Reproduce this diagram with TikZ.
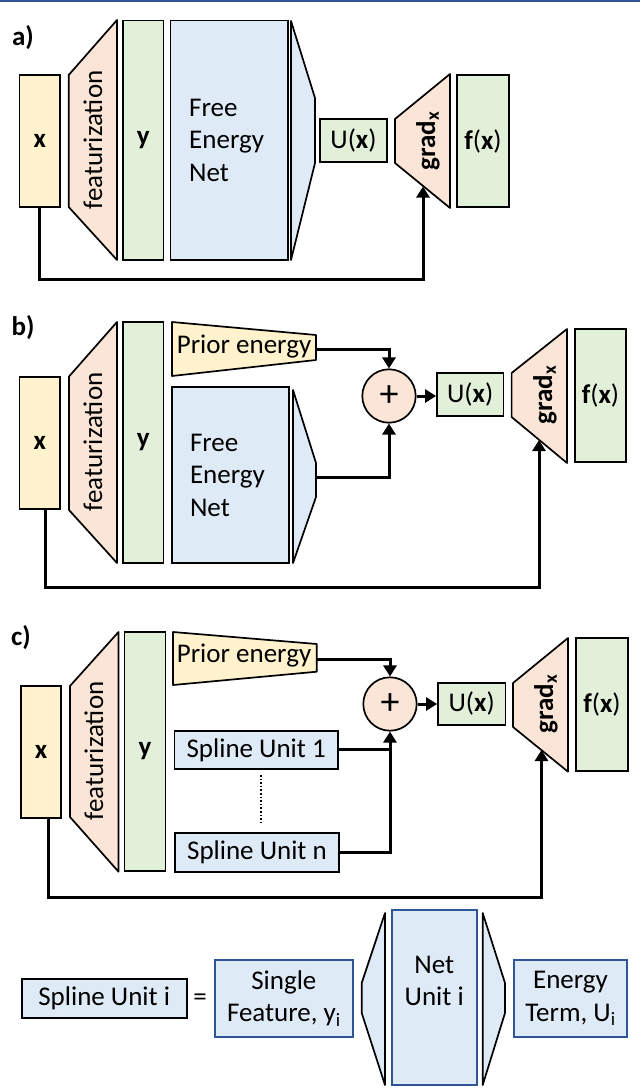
\documentclass[tikz,border=0pt]{standalone}
\usepackage{fontspec}
\setmainfont{Carlito}
\usepackage{tikz}
\usetikzlibrary{arrows.meta, positioning}
\definecolor{yelfill}{HTML}{FFF2CC}
\definecolor{peachfill}{HTML}{FBE5D6}
\definecolor{greenfill}{HTML}{E2F0D9}
\definecolor{bluefill}{HTML}{DEEBF7}
\definecolor{blueline}{HTML}{2F5597}
\newcommand{\bigfont}{\fontsize{27}{32.5}\selectfont}

\begin{document}
\begin{tikzpicture}
  [
    x=1pt, y=-1pt,
    every node/.style={font=\bigfont, inner sep=0pt},
    Box/.style={rectangle, draw=black, line width=1.7pt},
    Yellow/.style={Box, fill=yelfill},
    Green/.style={Box, fill=greenfill},
    Blue/.style={Box, fill=bluefill},
    BlueEdge/.style={Box, fill=bluefill, draw=blueline},
    PeachShape/.style={draw=black, line width=1.7pt, fill=peachfill, line join=round},
    YellowShape/.style={draw=black, line width=1.7pt, fill=yelfill, line join=round},
    BlueShape/.style={draw=black, line width=1.7pt, fill=bluefill, line join=round},
    Plus/.style={circle, draw=black, line width=1.7pt, fill=peachfill, minimum size=53.4pt, font=\fontsize{38}{38}\selectfont},
    Tag/.style={font=\bigfont\bfseries},
    Link/.style={draw, line width=3pt, >={Triangle[length=11pt, width=13pt]}}
  ]
  \useasboundingbox[fill=white] (0,0) rectangle (640,1089);
  \draw[blueline, line width=2pt] (0,1) -- (640,1);

  % Panel a
  \node[Tag] (la) at (23,38) {a)};
  \node[Yellow, minimum width=40.4, minimum height=132, Tag] (xA) at (39.8,141) {x};
  \path[PeachShape] (68.7,75) -- (117,20) -- (117,260) -- (68.7,207) -- cycle;
  \node[rotate=90] (ftA) at (93,140) {featurization};
  \node[Green, minimum width=40.5, minimum height=239.3, Tag] (yA) at (143.2,140.3) {y};
  \node[Blue, minimum width=117.6, minimum height=239.3, text width=80, align=left] (fenA) at (229.2,140.3) {Free\\Energy\\Net};
  \path[BlueShape] (291,21) -- (315,98) -- (315,163) -- (291,260) -- cycle;
  \node[Green, minimum width=67, minimum height=43] (uA) at (353.5,140.5) {U(\textbf{x})};
  \path[PeachShape] (395,119) -- (450,74) -- (450,208) -- (395,163) -- cycle;
  \node[rotate=90, Tag] (grA) at (428,141) {grad\textsubscript{x}};
  \node[Green, minimum width=52, minimum height=132] (fA) at (483,141) {\textbf{f}(\textbf{x})};
  \coordinate (gA) at (423,186.5);
  % Lines
  \path[->, Link] (xA.south) -- ++(0,72) -| (gA);

  % Panel b
  \node[Tag] (lb) at (23,328) {b)};
  \node[Yellow, minimum width=40.4, minimum height=132.6, Tag] (xB) at (39.8,443) {x};
  \path[PeachShape] (69,376.5) -- (117,322) -- (117,563) -- (69,510) -- cycle;
  \node[rotate=90] (ftB) at (93,442) {featurization};
  \node[Green, minimum width=40.5, minimum height=241, Tag] (yB) at (143.2,442.5) {y};
  \path[YellowShape] (172,322) -- (316,335) -- (316,360) -- (172,376) -- cycle;
  \node (prB) at (244,347) {Prior energy};
  \node[Blue, minimum width=117, minimum height=176, text width=81, align=left] (fenB) at (230.5,475) {Free\\Energy\\Net};
  \path[BlueShape] (293,390) -- (316,463) -- (316,497) -- (293,563) -- cycle;
  \node[Plus] (plusB) at (389,396) {+};
  \node[Green, minimum width=66.5, minimum height=42.7] (uB) at (470.2,394.3) {U(\textbf{x})};
  \path[PeachShape] (511.6,373) -- (567,329) -- (567,463) -- (511.6,417) -- cycle;
  \node[rotate=90, Tag] (grB) at (545,395) {grad\textsubscript{x}};
  \node[Green, minimum width=51, minimum height=133] (fB) at (600.5,395.5) {\textbf{f}(\textbf{x})};
  \coordinate (prBout) at (316,349);
  \coordinate (fenBout) at (316,477);
  \coordinate (gB) at (539,440);
  % Lines
  \path[->, Link] (prBout) -| (plusB.north);
  \path[->, Link] (fenBout) -| (plusB.south);
  \path[->, Link] (plusB.east) -- (plusB.east -| uB.west);
  \path[->, Link] ([xshift=6]xB.south) -- ++(0,77.4) -| (gB);

  % Panel c
  \node[Tag] (lc) at (21,638) {c)};
  \node[Yellow, minimum width=40, minimum height=132, Tag] (xC) at (41,752) {x};
  \path[PeachShape] (70,686) -- (118.5,632) -- (118.5,871.7) -- (70,817) -- cycle;
  \node[rotate=90] (ftC) at (94,751) {featurization};
  \node[Green, minimum width=41, minimum height=239, Tag] (yC) at (145,751.5) {y};
  \path[YellowShape] (173,632) -- (316.7,644) -- (316.7,671.7) -- (173,685) -- cycle;
  \node (prC) at (244,656) {Prior energy};
  \node[Blue, minimum width=163.5, minimum height=38.3] (su1) at (256.2,749.8) {Spline Unit 1};
  \node[Blue, minimum width=164, minimum height=38.7] (sun) at (257,852.3) {Spline Unit n};
  \path[draw, line width=1.6pt, dotted] (261,775) -- (261,823);
  \node[Plus] (plusC) at (390,704) {+};
  \node[Green, minimum width=67.5, minimum height=42.3] (uC) at (471.7,703.8) {U(\textbf{x})};
  \path[PeachShape] (513,683) -- (568,638) -- (568,771.7) -- (513,727) -- cycle;
  \node[rotate=90, Tag] (grC) at (546,704) {grad\textsubscript{x}};
  \node[Green, minimum width=52, minimum height=133] (fC) at (602,704.5) {\textbf{f}(\textbf{x})};
  \coordinate (prCout) at (316.7,659);
  \coordinate (gC) at (541.5,750);
  % Lines
  \path[->, Link] (prCout) -| (plusC.north);
  \path[Link] (su1.east) -- (su1.east -| plusC.south);
  \path[->, Link] (sun.east) -| (plusC.south);
  \path[->, Link] (plusC.east) -- (plusC.east -| uC.west);
  \path[->, Link] ([xshift=7]xC.south) -- ++(0,78.7) -| (gC);

  % Spline unit
  \node[Box, fill=bluefill, minimum width=165, minimum height=39] (sui) at (104.2,998.5) {Spline Unit i};
  \node (eq) at (200,1000) {=};
  \node[BlueEdge, minimum width=137.7, minimum height=77, align=center] (sfeat) at (283.9,998.5) {Single\\Feature, y\textsubscript{i}};
  \path[BlueShape] (385,913) -- (361.7,983) -- (361.7,1013) -- (385,1085) -- cycle;
  \node[BlueEdge, minimum width=85, minimum height=175] (netU) at (434.2,997.5) {};
  \node[align=center] (netT) at (434.2,981) {Net\\Unit i};
  \path[BlueShape] (482.7,913) -- (505,983) -- (505,1013) -- (482.7,1085) -- cycle;
  \node[BlueEdge, minimum width=113, minimum height=77, align=center] (eterm) at (570.5,998.5) {Energy\\Term, U\textsubscript{i}};
\end{tikzpicture}
\end{document}
